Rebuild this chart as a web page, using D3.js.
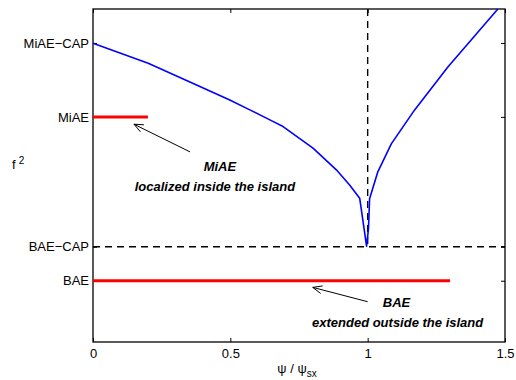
<!DOCTYPE html>
<html lang="en">
<head>
<meta charset="utf-8">
<title>f2 vs psi</title>
<script src="https://cdn.jsdelivr.net/npm/d3@7"></script>
<style>
  body { margin: 0; background: #fff; }
  svg text { font-family: "Liberation Sans", Arial, Helvetica, sans-serif; fill: #000; }
  .note { font-weight: bold; font-style: italic; font-size: 13px; }
</style>
</head>
<body>
<svg id="chart"></svg>
<script>
// x ticks (psi / psi_sx)
var xTicks = [0, 0.5, 1, 1.5];
// y ticks (f^2, arbitrary units)
var yTickVals = [0.184, 0.286, 0.676, 0.898];
var yTickLabels = ["BAE", "BAE\u2212CAP", "MiAE", "MiAE\u2212CAP"];

// continuum curve
var curvePsi = [0, 0.201, 0.377, 0.498, 0.571, 0.644, 0.692, 0.801, 0.886, 0.935, 0.971, 0.996, 1.003, 1.007, 1.037, 1.086, 1.171, 1.292, 1.474];
var curveF2  = [0.897, 0.837, 0.772, 0.727, 0.697, 0.667, 0.647, 0.582, 0.517, 0.471, 0.432, 0.288, 0.34, 0.43, 0.511, 0.595, 0.697, 0.826, 1.0];

// eigenmodes
var miaeRange = [0, 0.2], miaeF2 = 0.676;
var baeRange = [0, 1.3], baeF2 = 0.184;
var separatrix = 1, baeCap = 0.286;

// annotations: label, sub-label, arrow tail (psi, f2), arrow head (psi, f2), label pos, sub-label pos
var notes = [
  {label: "MiAE", sub: "localized inside the island", tail: [0.353, 0.571], head: [0.149, 0.654], at: [0.462, 0.514], subAt: [0.444, 0.453]},
  {label: "BAE", sub: "extended outside the island", tail: [1.0, 0.121], head: [0.8, 0.164], at: [1.105, 0.105], subAt: [1.109, 0.045]}
];

var svgWidth = 516, svgHeight = 380;
var margin = {top: 9, right: 11, bottom: 38, left: 93};
var width = svgWidth - margin.left - margin.right;
var height = svgHeight - margin.top - margin.bottom;

var svg = d3.select("#chart").attr("width", svgWidth).attr("height", svgHeight)
  .append("g").attr("transform", "translate(" + margin.left + "," + margin.top + ")");

var x = d3.scaleLinear().domain([0, 1.5]).range([0, width]);
var y = d3.scaleLinear().domain([0, 1]).range([height, 0]);

// axes, ticks pointing inwards
var fmt = function(d) { return d3.format("~g")(d); };
svg.append("g").attr("transform", "translate(0," + height + ")")
  .call(d3.axisBottom(x).tickValues(xTicks).tickFormat(fmt).tickSizeInner(-4).tickSizeOuter(0).tickPadding(7));
svg.append("g").call(d3.axisTop(x).tickValues(xTicks).tickFormat("").tickSizeInner(-4).tickSizeOuter(0));
svg.append("g")
  .call(d3.axisLeft(y).tickValues(yTickVals).tickFormat(function(d, i) { return yTickLabels[i]; })
    .tickSizeInner(-4).tickSizeOuter(0).tickPadding(4));
svg.append("g").attr("transform", "translate(" + width + ",0)")
  .call(d3.axisRight(y).tickValues(yTickVals).tickFormat("").tickSizeInner(-4).tickSizeOuter(0));
svg.selectAll(".domain").remove();
svg.selectAll(".tick line").attr("stroke", "#000");
svg.selectAll(".tick text").style("font-size", "13px").attr("fill", "#000");

// frame
svg.append("rect").attr("width", width).attr("height", height)
  .attr("fill", "none").attr("stroke", "#000").attr("stroke-width", 1.3);

// dashed guides
svg.append("line")
  .attr("x1", x(0)).attr("x2", x(1.5)).attr("y1", y(baeCap)).attr("y2", y(baeCap))
  .attr("stroke", "#000").attr("stroke-width", 1.4).attr("stroke-dasharray", "7,5");
svg.append("line")
  .attr("x1", x(separatrix)).attr("x2", x(separatrix)).attr("y1", y(1)).attr("y2", y(baeCap))
  .attr("stroke", "#000").attr("stroke-width", 1.4).attr("stroke-dasharray", "7,5");

// continuum
var line = d3.line().x(function(d) { return x(d[0]); }).y(function(d) { return y(d[1]); });
svg.append("path").datum(d3.zip(curvePsi, curveF2))
  .attr("d", line).attr("fill", "none").attr("stroke", "#0000ff").attr("stroke-width", 1.6)
  .attr("stroke-linejoin", "round");

// modes
svg.append("line").attr("x1", x(miaeRange[0])).attr("x2", x(miaeRange[1]))
  .attr("y1", y(miaeF2)).attr("y2", y(miaeF2)).attr("stroke", "#ff0000").attr("stroke-width", 3);
svg.append("line").attr("x1", x(baeRange[0])).attr("x2", x(baeRange[1]))
  .attr("y1", y(baeF2)).attr("y2", y(baeF2)).attr("stroke", "#ff0000").attr("stroke-width", 3);

// annotations
notes.forEach(function(n) {
  var x0 = x(n.tail[0]), y0 = y(n.tail[1]), x1 = x(n.head[0]), y1 = y(n.head[1]);
  svg.append("line").attr("x1", x0).attr("y1", y0).attr("x2", x1).attr("y2", y1)
    .attr("stroke", "#000").attr("stroke-width", 1);
  var a = Math.atan2(y0 - y1, x0 - x1), L = 10, s = 0.4;
  svg.append("path")
    .attr("d", "M" + (x1 + L * Math.cos(a + s)) + "," + (y1 + L * Math.sin(a + s)) +
      "L" + x1 + "," + y1 + "L" + (x1 + L * Math.cos(a - s)) + "," + (y1 + L * Math.sin(a - s)))
    .attr("fill", "none").attr("stroke", "#000").attr("stroke-width", 1);
  svg.append("text").attr("class", "note").attr("text-anchor", "middle")
    .attr("x", x(n.at[0])).attr("y", y(n.at[1])).text(n.label);
  svg.append("text").attr("class", "note").attr("text-anchor", "middle")
    .attr("x", x(n.subAt[0])).attr("y", y(n.subAt[1])).text(n.sub);
});

// axis labels
var xl = svg.append("text").attr("x", width / 2 - 2).attr("y", height + 31)
  .attr("text-anchor", "middle").style("font-size", "13px");
xl.append("tspan").text("\u03c8 / \u03c8");
xl.append("tspan").attr("dy", 4).style("font-size", "10px").text("sx");

var yl = svg.append("text").attr("x", 12 - margin.left).attr("y", 169 - margin.top).style("font-size", "13px");
yl.append("tspan").text("f");
yl.append("tspan").attr("dx", 3).attr("dy", -5).style("font-size", "10px").text("2");
</script>
</body>
</html>
